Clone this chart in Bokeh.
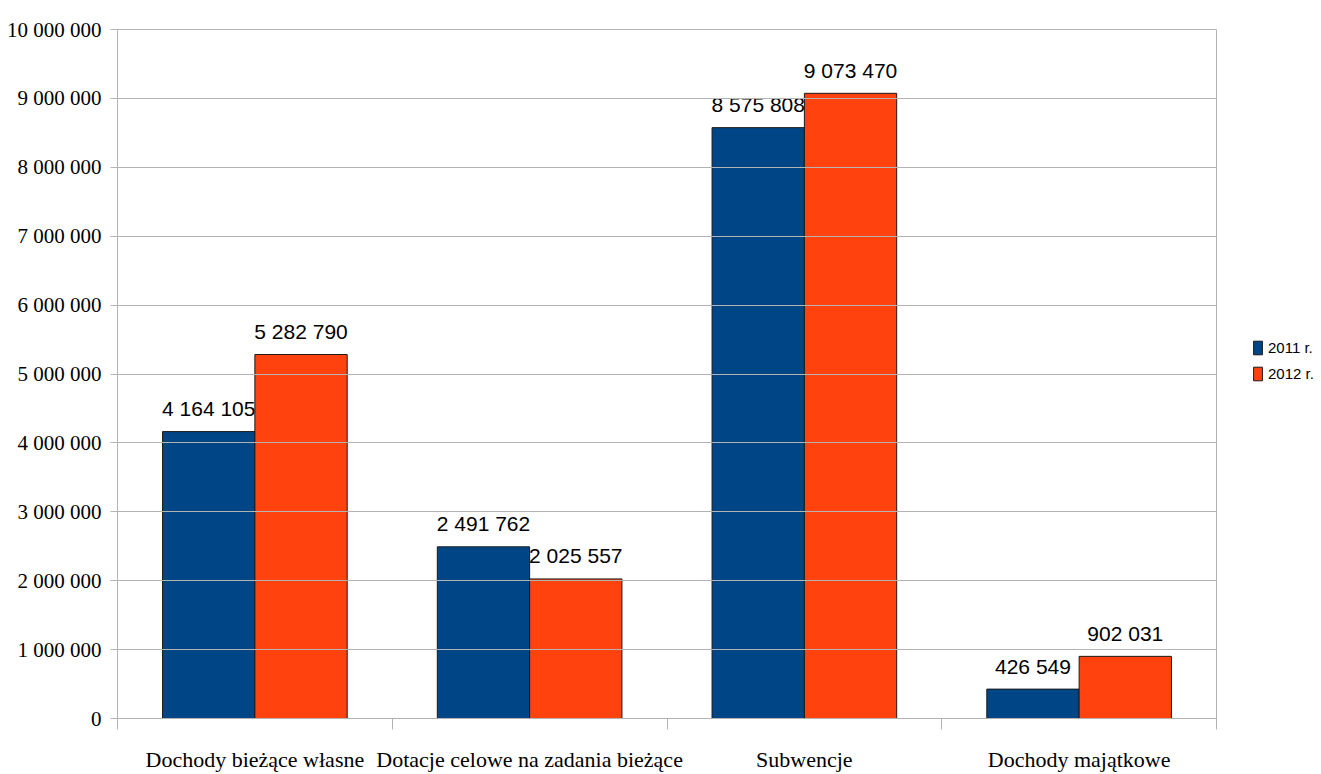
from bokeh.plotting import figure
from bokeh.models import ColumnDataSource, FixedTicker, Legend, LegendItem, Span
from bokeh.core.properties import value
from bokeh.embed import file_html
from bokeh.resources import INLINE

categories = ["Dochody bieżące własne", "Dotacje celowe na zadania bieżące", "Subwencje", "Dochody majątkowe"]
series_names = ["2011 r.", "2012 r."]
values_2011 = [4164105, 2491762, 8575808, 426549]
values_2012 = [5282790, 2025557, 9073470, 902031]
y_ticks = [0, 1000000, 2000000, 3000000, 4000000, 5000000, 6000000, 7000000, 8000000, 9000000, 10000000]
y_tick_labels = ["0", "1 000 000", "2 000 000", "3 000 000", "4 000 000", "5 000 000",
                 "6 000 000", "7 000 000", "8 000 000", "9 000 000", "10 000 000"]
colors = ["#004586", "#ff420e"]

SERIF = "Liberation Serif"
SANS = "Liberation Sans"
GRID = "#b3b3b3"

def fmt(v):
    return f"{v:,}".replace(",", " ")

n = len(categories)
bar_w = 0.336
centers = [i + 0.5 for i in range(n)]

# layout: chart area 1099 px wide, plus 105 px on the right for the legend
CHART_W = 1099
LEGEND_W = 105
x_end = n * (CHART_W + LEGEND_W) / CHART_W

p = figure(width=1321, height=774, x_range=(0, x_end), y_range=(0, 10000000),
           output_backend="svg", toolbar_location=None,
           min_border_left=117, min_border_right=0, min_border_top=29, min_border_bottom=56)
p.outline_line_color = None
p.background_fill_color = "white"
p.border_fill_color = "white"

# x axis: labels at category centers, separator ticks as minor ticks
p.xaxis.ticker = FixedTicker(ticks=centers, minor_ticks=list(range(n + 1)))
p.xaxis.bounds = (0, n)
p.xaxis.major_label_overrides = {c: lab for c, lab in zip(centers, categories)}
p.xaxis.major_tick_line_color = None
p.xaxis.major_tick_out = 0
p.xaxis.major_tick_in = 0
p.xaxis.minor_tick_line_color = GRID
p.xaxis.minor_tick_out = 11
p.xaxis.minor_tick_in = 0
p.xaxis.axis_line_color = GRID
p.xaxis.major_label_standoff = 17
p.xaxis.major_label_text_font = SERIF
p.xaxis.major_label_text_font_size = "22px"
p.xaxis.major_label_text_color = "black"
p.xgrid.grid_line_color = None
p.ygrid.grid_line_color = None

# y axis: ticks run across the chart area as horizontal grid lines
p.yaxis.ticker = FixedTicker(ticks=y_ticks, minor_ticks=[])
p.yaxis.major_label_overrides = {t: lab for t, lab in zip(y_ticks, y_tick_labels)}
p.yaxis.axis_line_color = GRID
p.yaxis.major_tick_line_color = GRID
p.yaxis.major_tick_out = 7
p.yaxis.major_tick_in = CHART_W
p.yaxis.minor_tick_line_color = None
p.yaxis.major_label_standoff = 9
p.yaxis.major_label_text_font = SERIF
p.yaxis.major_label_text_font_size = "21px"
p.yaxis.major_label_text_color = "black"

# right border of the chart area
p.add_layout(Span(location=n, dimension="height", line_color=GRID, line_width=1))

renderers = []
for k, (vals, col) in enumerate(zip([values_2011, values_2012], colors)):
    off = -bar_w / 2 if k == 0 else bar_w / 2
    src = ColumnDataSource(dict(
        x=[c + off for c in centers],
        top=vals,
        label=[fmt(v) for v in vals],
    ))
    r = p.vbar(x="x", top="top", width=bar_w, bottom=0, source=src,
               fill_color=col, line_color="#1a1a1a", line_width=1)
    renderers.append(r)
    p.text(x="x", y="top", text="label", source=src, text_align="center",
           text_baseline="alphabetic", y_offset=-23,
           text_font=value(SANS), text_font_size="21px", text_color="black")

legend = Legend(items=[LegendItem(label=series_names[i], renderers=[renderers[i]]) for i in range(2)],
                location=(CHART_W + 36, 336))
legend.border_line_color = None
legend.background_fill_alpha = 0
legend.padding = 0
legend.margin = 0
legend.spacing = 9
legend.glyph_width = 11
legend.glyph_height = 17
legend.label_height = 17
legend.label_standoff = 5
legend.label_text_font = SANS
legend.label_text_font_size = "15px"
legend.label_text_color = "black"
legend.label_text_baseline = "middle"
p.add_layout(legend, "center")

open("out.html", "w").write(file_html(p, INLINE))
